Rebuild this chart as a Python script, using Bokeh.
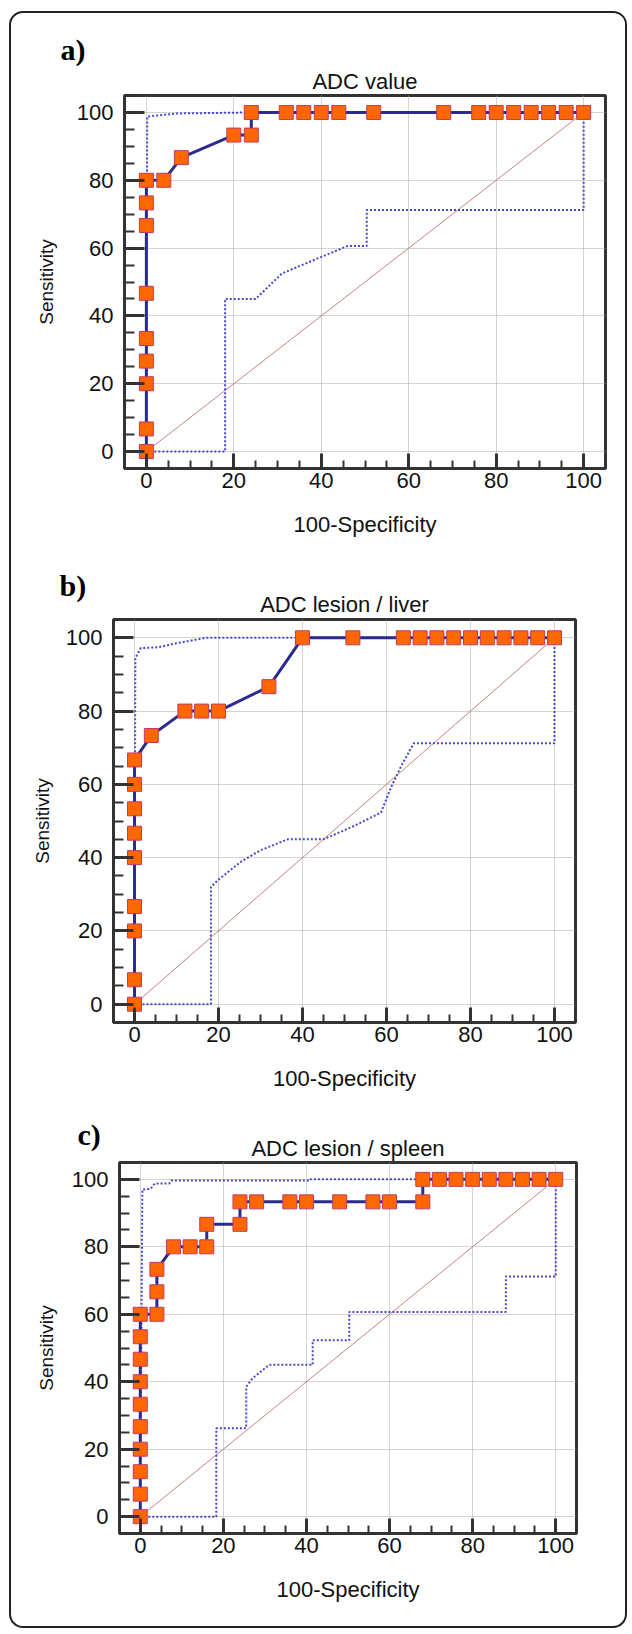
from bokeh.plotting import figure
from bokeh.layouts import column
from bokeh.models import Range1d, SingleIntervalTicker, Title
from bokeh.embed import file_html
from bokeh.resources import INLINE

# ---------------- data ----------------
titles = ["ADC value", "ADC lesion / liver", "ADC lesion / spleen"]
letters = ["a)", "b)", "c)"]

# Panel a: ADC value
a_roc_x = [0, 0, 0, 0, 0, 0, 0, 0, 0, 4, 8, 20, 24, 24, 32, 36, 40, 44, 52, 68, 76, 80, 84, 88, 92, 96, 100]
a_roc_y = [0, 6.67, 20, 26.67, 33.33, 46.67, 66.67, 73.33, 80, 80, 86.67, 93.33, 93.33, 100, 100, 100, 100,
           100, 100, 100, 100, 100, 100, 100, 100, 100, 100]
a_up_x = [0, 0.2, 7, 24, 100]
a_up_y = [0, 98.8, 99.7, 100, 100]
a_lo_x = [0, 18, 18, 25, 31, 35, 46, 50.4, 50.4, 100, 100]
a_lo_y = [0, 0, 45, 45, 52.5, 54.7, 60.6, 60.6, 71.2, 71.2, 100]

# Panel b: ADC lesion / liver
b_roc_x = [0, 0, 0, 0, 0, 0, 0, 0, 0, 4, 12, 16, 20, 32, 40, 52, 64, 68, 72, 76, 80, 84, 88, 92, 96, 100]
b_roc_y = [0, 6.67, 20, 26.67, 40, 46.67, 53.33, 60, 66.67, 73.33, 80, 80, 80, 86.67, 100, 100, 100, 100,
           100, 100, 100, 100, 100, 100, 100, 100]
b_up_x = [0, 0.2, 1.5, 5.5, 10, 17, 100]
b_up_y = [0, 94.5, 97.2, 97.4, 98.5, 100, 100]
b_lo_x = [0, 18.2, 18.2, 20, 25.5, 30, 36.5, 45, 52, 58.7, 61, 63.5, 66.5, 100, 100]
b_lo_y = [0, 0, 32, 34, 39, 42, 45, 45, 48.5, 52.3, 59, 65, 71.2, 71.2, 100]

# Panel c: ADC lesion / spleen
c_roc_x = [0, 0, 0, 0, 0, 0, 0, 0, 0, 0, 4, 4, 4, 8, 12, 16, 16, 24, 24, 28, 36, 40, 48, 56, 60, 68, 68,
           72, 76, 80, 84, 88, 92, 96, 100]
c_roc_y = [0, 6.67, 13.33, 20, 26.67, 33.33, 40, 46.67, 53.33, 60, 60, 66.67, 73.33, 80, 80, 80, 86.67,
           86.67, 93.33, 93.33, 93.33, 93.33, 93.33, 93.33, 93.33, 93.33, 100, 100, 100, 100, 100, 100,
           100, 100, 100]
c_up_x = [0, 0.5, 2.5, 3.5, 7, 7.5, 41, 41, 100]
c_up_y = [0, 97, 97.2, 98.8, 98.8, 99.7, 99.7, 100, 100]
c_lo_x = [0, 18.3, 18.3, 25.5, 25.5, 27, 31, 41.5, 41.5, 50.3, 50.3, 88, 88, 100, 100]
c_lo_y = [0, 0, 26.2, 26.2, 38.5, 41, 45, 45, 52.3, 52.3, 60.7, 60.7, 71.2, 71.2, 100]

diag_x = [0, 100]
diag_y = [0, 100]

# ---------------- style ----------------
FONT = "Liberation Sans"
AXIS_C = "#333333"
ROC_C = "#2b2b8e"
CI_C = "#4747cc"
MK_FILL = "#ff6600"
MK_LINE = "#c03a6a"
DIAG_C = "#c98080"
BORDER_L = 100
BORDER_R = 20


def make_panel(idx, rx, ry, ux, uy, lx, ly, width, height, left_margin, mbt, mbb,
               letter_offset, letter_standoff, title_standoff, ylab_standoff):
    p = figure(width=width, height=height, output_backend="svg", toolbar_location=None,
               x_range=Range1d(-5, 105), y_range=Range1d(-5, 105),
               min_border_left=BORDER_L, min_border_right=BORDER_R,
               min_border_top=mbt, min_border_bottom=mbb,
               margin=(0, 0, 0, left_margin),
               background_fill_color="white", border_fill_color="white")
    p.outline_line_color = AXIS_C
    p.outline_line_width = 3
    p.outline_line_alpha = 1

    ticker = SingleIntervalTicker(interval=20, num_minor_ticks=4)
    for ax in (p.xaxis[0], p.yaxis[0]):
        ax.ticker = ticker
        ax.axis_line_color = None
        ax.major_tick_line_color = AXIS_C
        ax.minor_tick_line_color = AXIS_C
        ax.major_tick_line_width = 3
        ax.minor_tick_line_width = 2
        ax.major_tick_out = 0
        ax.minor_tick_out = 0
        ax.major_label_text_font = FONT
        ax.major_label_text_font_size = "22px"
        ax.major_label_text_color = "#111111"
        ax.axis_label_text_font = FONT
        ax.axis_label_text_font_style = "normal"
        ax.axis_label_text_color = "#111111"
    xa = p.xaxis[0]
    ya = p.yaxis[0]
    xa.major_tick_in = 15
    xa.minor_tick_in = 8
    ya.major_tick_in = 20
    ya.minor_tick_in = 10
    xa.major_label_standoff = 4
    ya.major_label_standoff = 11
    xa.axis_label = "100-Specificity"
    ya.axis_label = "Sensitivity"
    xa.axis_label_text_font_size = "22px"
    ya.axis_label_text_font_size = "19px"
    xa.axis_label_standoff = 21
    ya.axis_label_standoff = ylab_standoff

    for g in (p.xgrid[0], p.ygrid[0]):
        g.ticker = ticker
        g.grid_line_color = "#a8a8a8"
        g.grid_line_dash = "1 1"
        g.grid_line_width = 1

    p.line(diag_x, diag_y, line_color=DIAG_C, line_width=1)
    p.line(ux, uy, line_color=CI_C, line_width=2, line_dash="2 2")
    p.line(lx, ly, line_color=CI_C, line_width=2, line_dash="2 2")
    p.line(rx, ry, line_color=ROC_C, line_width=3)
    p.scatter(rx, ry, marker="square", size=14, fill_color=MK_FILL,
              line_color=MK_LINE, line_width=1)

    # chart title (nearest to the frame)
    p.add_layout(Title(text=titles[idx], align="center", text_font=FONT,
                       text_font_size="22px", text_font_style="normal",
                       text_color="#111111", standoff=title_standoff), "above")
    # panel letter (outer)
    p.title.text = letters[idx]
    p.title.align = "left"
    p.title.offset = letter_offset
    p.title.standoff = letter_standoff
    p.title.text_font = "Liberation Serif"
    p.title.text_font_style = "bold"
    p.title.text_font_size = "30px"
    p.title.text_color = "#000000"
    return p


pa = make_panel(0, a_roc_x, a_roc_y, a_up_x, a_up_y, a_lo_x, a_lo_y,
                601, 532, 13, 82, 77, -64, 0, 3, 17)
pb = make_panel(1, b_roc_x, b_roc_y, b_up_x, b_up_y, b_lo_x, b_lo_y,
                582, 555, 2, 74, 78, -54, -31, 6, 10)
pc = make_panel(2, c_roc_x, c_roc_y, c_up_x, c_up_y, c_lo_x, c_lo_y,
                577, 526, 8, 62, 93, -42, -37, 3, 12)

layout = column(pa, pb, pc, spacing=0, margin=(11, 0, 0, 9),
                styles={"border": "2px solid #222222", "border-radius": "14px",
                        "background-color": "white", "overflow": "hidden"})

open("out.html", "w").write(file_html(layout, INLINE))
